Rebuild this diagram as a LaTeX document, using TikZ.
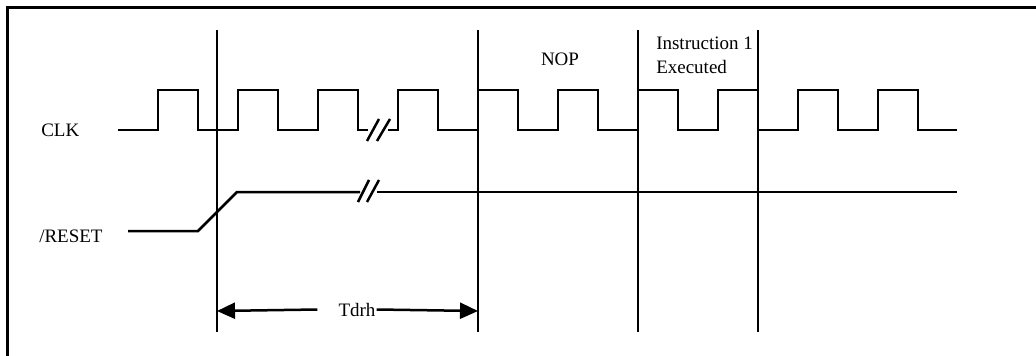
\documentclass[tikz,border=0pt]{standalone}
\usepackage{fontspec}
\setmainfont{Liberation Serif}
\usetikzlibrary{arrows.meta}

\begin{document}
\begin{tikzpicture}[x=1pt,y=-1pt,line width=2.5pt,
    lbl/.style={font=\fontsize{19}{24}\selectfont,inner sep=0pt},
    tip/.style={-{Triangle[length=18pt,width=16pt]}}]
  \useasboundingbox (0,0) rectangle (1036,356);
  \draw[line width=3pt] (1040,7) -- (7,7) -- (7,360);
  % signal names
  \node[lbl,anchor=base west] (clk) at (40,136) {CLK};
  \node[lbl,anchor=base west] (rst) at (38,242) {/RESET};
  % clock before and after the break
  \draw (118,130) \foreach \k in {0,1,2} {-- (158+80*\k,130) -- ++(0,-40) -- ++(40,0) -- ++(0,40)} -- (368,130);
  \draw (388,130) \foreach \k in {3,...,9} {-- (158+80*\k,130) -- ++(0,-40) -- ++(40,0) -- ++(0,40)} -- (957,130);
  \draw (367,141) -- (379,119);
  \draw (377,141) -- (390,119);
  % reset
  \draw (128,231) -- (198,231) -- (237,192) -- (360,192);
  \draw (377,192) -- (957,192);
  \draw (358,202) -- (369,180);
  \draw (367,202) -- (379,180);
  % markers
  \foreach \x in {217,478,638,758} \draw (\x,30) -- (\x,332);
  \node[lbl,anchor=base] (nop) at (560,65) {NOP};
  \node[lbl,anchor=north west,align=left] (ins) at (655,36) {Instruction 1\\Executed};
  % delay
  \coordinate (tl) at (217,311);
  \coordinate (tr) at (478,311);
  \node[lbl,anchor=base] (tdrh) at (357,316) {Tdrh};
  \draw[tip] ([xshift=-20pt]tdrh.west) -- (tl);
  \draw[tip] (tdrh.east) -- (tr);
\end{tikzpicture}
\end{document}
